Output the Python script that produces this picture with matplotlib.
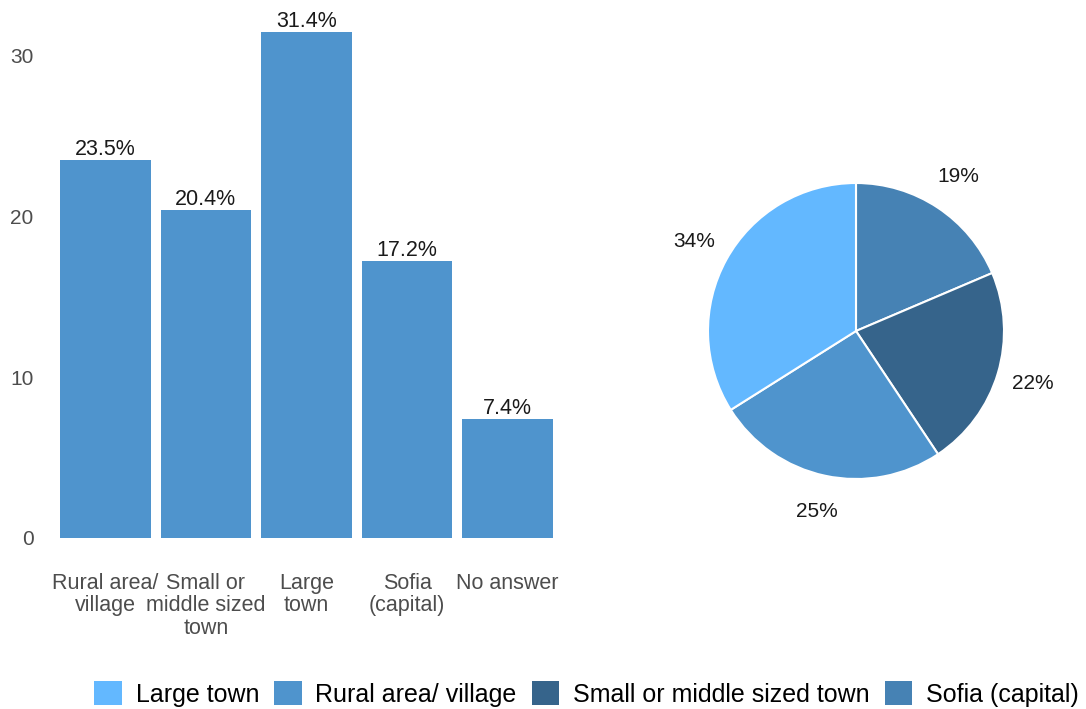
import matplotlib
matplotlib.use('Agg')
import matplotlib.pyplot as plt
from matplotlib.patches import Patch

plt.rcParams['font.family'] = ['Liberation Sans', 'DejaVu Sans']

# bar chart data
bar_labels = ['Rural area/\nvillage', 'Small or\nmiddle sized\ntown', 'Large\ntown', 'Sofia\n(capital)', 'No answer']
bar_values = [23.5, 20.4, 31.4, 17.2, 7.4]

# pie data (clockwise from 12 o'clock)
pie_names = ['Sofia (capital)', 'Small or middle sized town', 'Rural area/ village', 'Large town']
pie_values = [17.2, 20.4, 23.5, 31.4]
pie_colors = ['#4682B4', '#36648B', '#4F94CD', '#63B8FF']

legend_names = ['Large town', 'Rural area/ village', 'Small or middle sized town', 'Sofia (capital)']
legend_colors = ['#63B8FF', '#4F94CD', '#36648B', '#4682B4']

fig = plt.figure(figsize=(10.86, 7.09), dpi=100)

# bars
ax = fig.add_axes([0.0552, 0.2412, 0.454, 0.7266])
x = list(range(len(bar_values)))
ax.bar(x, bar_values, width=0.9, color='#4F94CD')
for xi, v in zip(x, bar_values):
    ax.text(xi, v, '{:.1f}%'.format(v), ha='center', va='bottom', fontsize=15.5, color='#1a1a1a')
ax.set_xlim(-0.45, 4.45)
ax.set_ylim(0, 32)
ax.set_yticks([0, 10, 20, 30])
ax.set_xticks(x)
ax.set_xticklabels(bar_labels, linespacing=1.1)
ax.tick_params(axis='x', length=0, pad=25, labelsize=15.5, labelcolor='#4d4d4d')
ax.tick_params(axis='y', length=0, pad=19, labelsize=15, labelcolor='#4d4d4d')
for s in ax.spines.values():
    s.set_visible(False)

# pie
r_px = 148
w = 2.6 * r_px
ax2 = fig.add_axes([(856 - w / 2) / 1086, (709 - 331 - w / 2) / 709, w / 1086, w / 709])
ax2.pie(pie_values, colors=pie_colors, startangle=90, counterclock=False,
        labels=['{:.0f}%'.format(v / sum(pie_values) * 100) for v in pie_values],
        labeldistance=1.25, textprops=dict(fontsize=15, color='#1a1a1a', ha='center', va='center'),
        wedgeprops=dict(edgecolor='white', linewidth=1.5))
ax2.set_xlim(-1.3, 1.3)
ax2.set_ylim(-1.3, 1.3)
ax2.set_aspect('equal')

handles = [Patch(facecolor=c, edgecolor='none') for c in legend_colors]
fig.legend(handles, legend_names, loc='center', bbox_to_anchor=(0.54, 0.021), ncol=4, frameon=False,
           fontsize=18, handlelength=1.1, handleheight=1.1, handletextpad=0.55, columnspacing=0.6)

plt.savefig('out.png', dpi=100)
